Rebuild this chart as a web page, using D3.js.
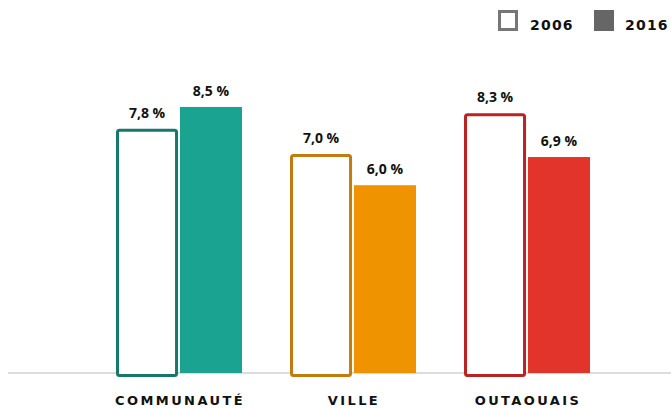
<!DOCTYPE html>
<html>
<head>
<meta charset="utf-8">
<script src="https://cdn.jsdelivr.net/npm/d3@7"></script>
<style>
  body { margin: 0; background: #fff; }
  svg { display: block; font-family: "Open Sans", "Noto Sans", sans-serif; }
</style>
</head>
<body>
<div id="chart"></div>
<script>
const categories = ['COMMUNAUTÉ', 'VILLE', 'OUTAOUAIS'];
const years = ['2006', '2016'];
const values2006 = [7.8, 7.0, 8.3];
const values2016 = [8.5, 6.0, 6.9];
const fillColors = ['#1ba391', '#f09300', '#e3342b'];
const strokeColors = ['#16786a', '#c27b0e', '#bb2222'];

const width = 671;
const height = 408;
const baseY = 373;

const svg = d3.select('#chart').append('svg').attr('width', width).attr('height', height);

const x0 = d3.scaleBand().domain(categories).range([92, 614]).paddingInner(0.276).paddingOuter(0.138);
const x1 = d3.scaleBand().domain(years).range([0, x0.bandwidth()]).paddingInner(0.03);
const y = d3.scaleLinear().domain([0, 10]).range([baseY, baseY - 313]);

const fmt = v => d3.format('.1f')(v).replace('.', ',') + ' %';

// base line
svg.append('line')
  .attr('x1', 8).attr('x2', width).attr('y1', baseY).attr('y2', baseY)
  .attr('stroke', '#dcdcdc').attr('stroke-width', 2);

const groups = svg.selectAll('g.cat').data(categories).enter().append('g')
  .attr('class', 'cat')
  .attr('transform', d => `translate(${x0(d)},0)`);

// 2016 filled bars
groups.append('rect')
  .attr('x', x1('2016'))
  .attr('y', (d, i) => y(values2016[i]))
  .attr('width', x1.bandwidth())
  .attr('height', (d, i) => baseY - y(values2016[i]))
  .attr('fill', (d, i) => fillColors[i]);

// 2006 outlined bars
groups.append('rect')
  .attr('x', x1('2006') + 1.5)
  .attr('y', (d, i) => y(values2006[i]) + 1.5)
  .attr('width', x1.bandwidth() - 3)
  .attr('height', (d, i) => baseY - y(values2006[i]) + 1)
  .attr('rx', 2)
  .attr('fill', '#fff')
  .attr('stroke', (d, i) => strokeColors[i])
  .attr('stroke-width', 3);

// value labels
groups.append('text')
  .attr('x', x1('2006') + x1.bandwidth() / 2)
  .attr('y', (d, i) => y(values2006[i]) - 11)
  .attr('text-anchor', 'middle')
  .attr('font-size', 14).attr('font-weight', 700).attr('fill', '#111')
  .text((d, i) => fmt(values2006[i]));

groups.append('text')
  .attr('x', x1('2016') + x1.bandwidth() / 2)
  .attr('y', (d, i) => y(values2016[i]) - 11)
  .attr('text-anchor', 'middle')
  .attr('font-size', 14).attr('font-weight', 700).attr('fill', '#111')
  .text((d, i) => fmt(values2016[i]));

// category labels
groups.append('text')
  .attr('x', x0.bandwidth() / 2 + 1)
  .attr('y', 405)
  .attr('text-anchor', 'middle')
  .attr('font-family', '"DejaVu Sans", Verdana, sans-serif')
  .attr('font-size', 13).attr('font-weight', 700).attr('fill', '#111')
  .attr('letter-spacing', 2.4)
  .text(d => d);

// legend
const legend = svg.append('g').attr('class', 'legend')
  .attr('font-family', '"DejaVu Sans", Verdana, sans-serif');
legend.append('rect')
  .attr('x', 499.5).attr('y', 11.5).attr('width', 17).attr('height', 18)
  .attr('fill', '#fff').attr('stroke', '#777').attr('stroke-width', 3);
legend.append('text')
  .attr('x', 530).attr('y', 30)
  .attr('font-size', 14).attr('font-weight', 700).attr('fill', '#111')
  .attr('letter-spacing', 1.2)
  .text(years[0]);
legend.append('rect')
  .attr('x', 594).attr('y', 10).attr('width', 20).attr('height', 21)
  .attr('fill', '#666');
legend.append('text')
  .attr('x', 625).attr('y', 30)
  .attr('font-size', 14).attr('font-weight', 700).attr('fill', '#111')
  .attr('letter-spacing', 1.2)
  .text(years[1]);
</script>
</body>
</html>
